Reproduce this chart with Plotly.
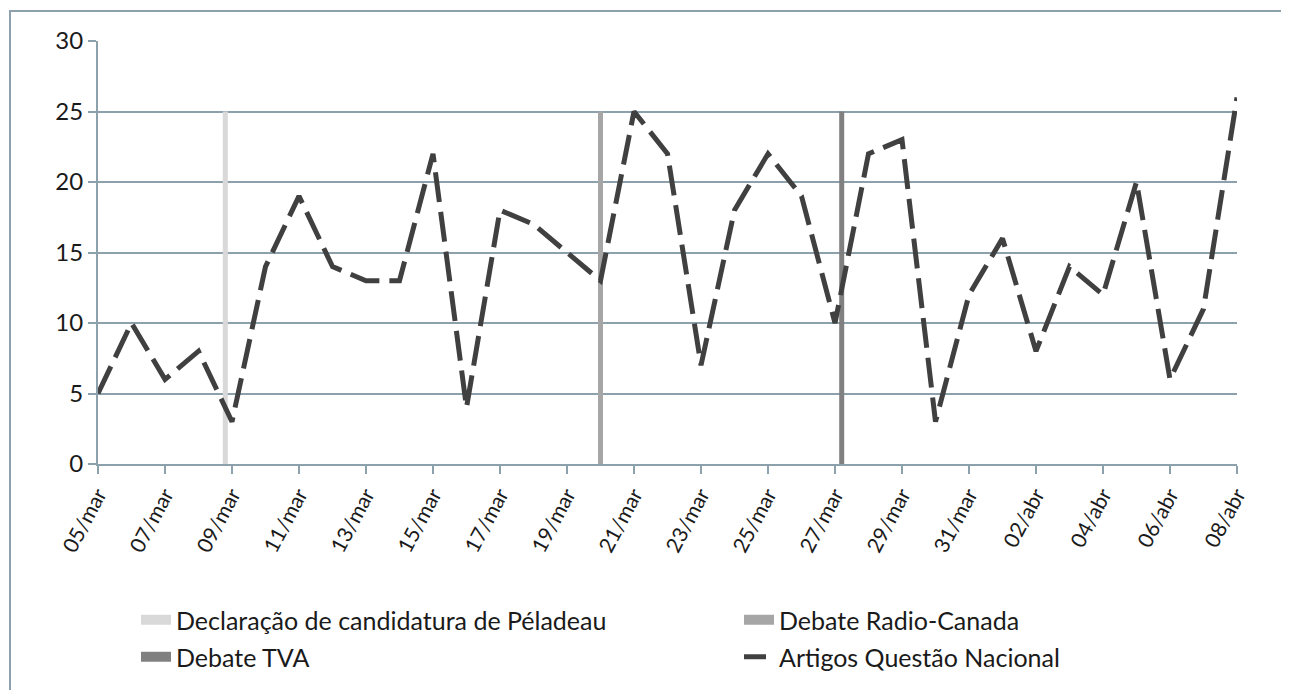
import plotly.graph_objects as go

# ---- data ----
dates = ["05/mar", "06/mar", "07/mar", "08/mar", "09/mar", "10/mar", "11/mar", "12/mar",
         "13/mar", "14/mar", "15/mar", "16/mar", "17/mar", "18/mar", "19/mar", "20/mar",
         "21/mar", "22/mar", "23/mar", "24/mar", "25/mar", "26/mar", "27/mar", "28/mar",
         "29/mar", "30/mar", "31/mar", "01/abr", "02/abr", "03/abr", "04/abr", "05/abr",
         "06/abr", "07/abr", "08/abr"]
artigos = [5, 10, 6, 8, 3, 14, 19, 14, 13, 13, 22, 4, 18, 17, 15, 13,
           25, 22, 7, 18, 22, 19, 10, 22, 23, 3, 12, 16, 8, 14, 12, 20,
           6, 11, 26]
event_names = ["Declaração de candidatura de Péladeau", "Debate Radio-Canada", "Debate TVA"]
event_pos = [3.8, 15.0, 22.2]       # position on the day axis (index of date)
event_value = [25, 25, 25]
series_name = "Artigos Questão Nacional"

# ---- styles ----
event_colors = ["#d9d9d9", "#a6a6a6", "#808080"]
line_color = "#404040"
grid_color = "#8ca1ab"
font_family = "Lato, 'Open Sans', sans-serif"

x_idx = list(range(len(dates)))
fig = go.Figure()

for i, (nm, pos, val) in enumerate(zip(event_names, event_pos, event_value)):
    fig.add_trace(go.Scatter(x=[pos, pos], y=[0, val], mode="lines",
                             line=dict(color=event_colors[i], width=5),
                             showlegend=False, hoverinfo="skip"))

fig.add_trace(go.Scatter(x=x_idx, y=artigos, mode="lines", name=series_name,
                         line=dict(color=line_color, width=5, dash="30px,10px"),
                         showlegend=False, cliponaxis=False))

# legend proxies (one per legend so each can be positioned like the original)
legend_ids = ["legend", "legend2", "legend3", "legend4"]
legend_names = event_names + [series_name]
legend_colors = event_colors + [line_color]
for i, nm in enumerate(legend_names):
    if i < 3:
        ln = dict(color=legend_colors[i], width=10)
    else:
        ln = dict(color=line_color, width=5, dash="22px,8px")
    fig.add_trace(go.Scatter(x=[None], y=[None], mode="lines", name=nm, line=ln,
                             legend=legend_ids[i], showlegend=True))

# page body has an 8px margin; work in page pixels and convert
OFF = 8
W, H = 1289 - OFF, 690 - OFF
plot_left, plot_right, plot_top, plot_bottom = 98, 1237, 41, 464
L, T = plot_left - OFF, plot_top - OFF
R = W - (plot_right - OFF)
B = H - (plot_bottom - OFF)
pw, ph = W - L - R, H - T - B

def px_x(px):
    return (px - plot_left) / pw

def px_y(py):
    return (plot_bottom - py) / ph

leg_common = dict(orientation="h", xanchor="left", yanchor="middle",
                  bgcolor="rgba(0,0,0,0)", font=dict(family=font_family, size=25, color="#1a1a1a"))
legend_px = [(136, 620), (739, 620), (136, 657), (739, 657)]
layout_legends = {}
for lid, (lx, ly) in zip(legend_ids, legend_px):
    layout_legends[lid] = dict(leg_common, x=px_x(lx), y=px_y(ly))

tick_vals = x_idx[::2]
tick_text = dates[::2]

fig.update_layout(
    width=W, height=H,
    margin=dict(l=L, r=R, t=T, b=B, autoexpand=False),
    paper_bgcolor="white", plot_bgcolor="white",
    font=dict(family=font_family, color="#1a1a1a"),
    xaxis=dict(range=[0, len(dates) - 1], tickvals=tick_vals, ticktext=tick_text,
               tickangle=-62, showgrid=False, zeroline=False,
               showline=True, linecolor=grid_color, linewidth=2,
               ticks="outside", ticklen=8, tickcolor=grid_color, tickwidth=2,
               tickfont=dict(size=21, family=font_family, color="#1a1a1a")),
    yaxis=dict(range=[0, 30], dtick=5, showgrid=True, gridcolor=grid_color, gridwidth=2,
               zeroline=False, showline=True, linecolor=grid_color, linewidth=2,
               ticks="outside", ticklen=8, tickcolor=grid_color, tickwidth=2,
               tickfont=dict(size=24, family=font_family, color="#1a1a1a")),
    shapes=[dict(type="rect", xref="paper", yref="paper",
                 x0=px_x(10), x1=px_x(1287), y0=px_y(700), y1=px_y(11),
                 line=dict(color=grid_color, width=2), fillcolor="rgba(0,0,0,0)", layer="below")],
    **layout_legends,
)

fig.write_html("out.html")
